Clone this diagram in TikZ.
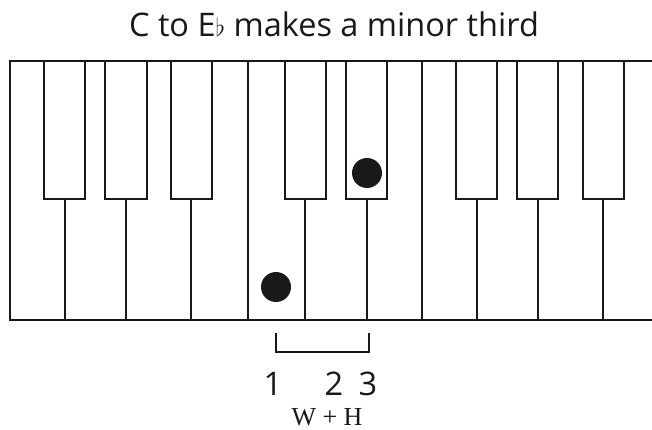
\documentclass[tikz,border=0pt]{standalone}
\usepackage{fontspec}
\setmainfont{Liberation Serif}
\newfontfamily\labelfont{Open Sans}
\begin{document}
\begin{tikzpicture}[x=1pt,y=-1pt,
  keyline/.style={line width=2pt,draw=black!90},
  blackkey/.style={keyline,fill=white},
  dot/.style={circle,fill=black!90,minimum size=30pt,inner sep=0pt},
  lbl/.style={font=\labelfont\fontsize{32.5}{32.5}\selectfont,text=black!90,anchor=base,inner sep=0pt},
  serif/.style={font=\fontsize{26}{26}\selectfont,text=black!90,anchor=base,inner sep=0pt}]
\useasboundingbox (0,0) rectangle (652,430);
% title
\node[lbl] (title) at (334,37) {C to E$\flat$ makes a minor third};
% outer frame
\draw[keyline] (652,61) -- (10,61) -- (10,320) -- (652,320);
% full white-key dividers
\foreach \x in {248,422} \draw[keyline] (\x,61) -- (\x,320);
% black keys with stems
\foreach \a/\b/\s in {44/85/65,105/147/126,171/212/191,285/326/305,346/387/367,456/497/477,517/558/538,583/624/603}{
  \draw[blackkey] (\a,61) rectangle (\b,199);
  \draw[keyline] (\s,199) -- (\s,320);
}
% dots
\node[dot] (c) at (276,287) {};
\node[dot] (eb) at (367,173) {};
% bracket
\coordinate (bl) at (276,333);
\coordinate (br) at (369,333);
\draw[keyline] (bl) -- (276,352) -- (369,352) -- (br);
% numbers
\node[lbl] (n1) at (273,395) {1};
\node[lbl] (n2) at (334,395) {2};
\node[lbl] (n3) at (368,395) {3};
\node[serif] (wh) at (327,425) {W + H};
\end{tikzpicture}
\end{document}
